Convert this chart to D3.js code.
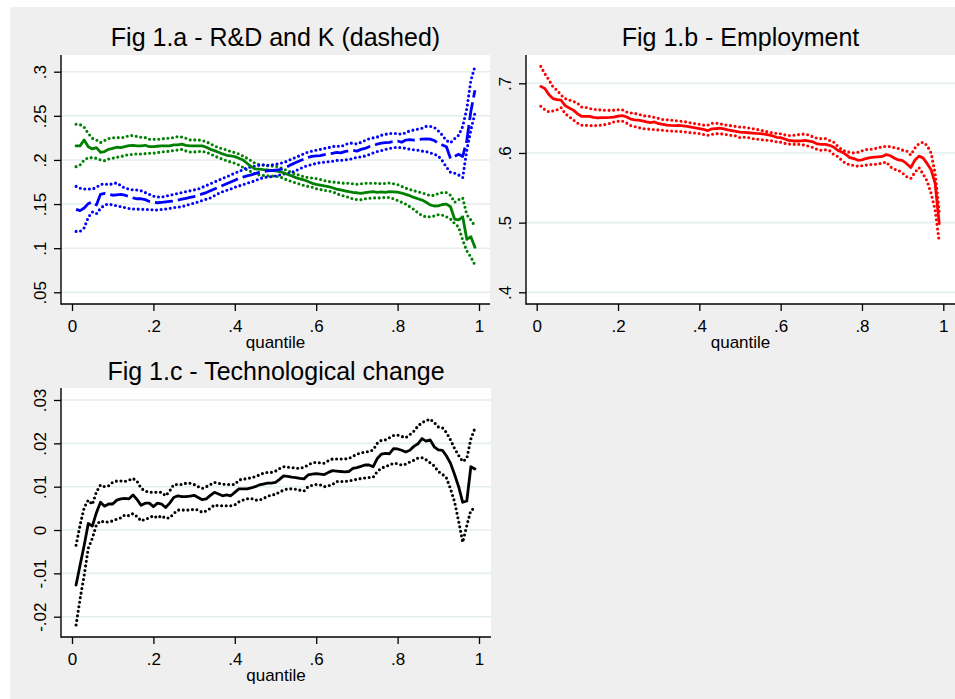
<!DOCTYPE html>
<html><head><meta charset="utf-8">
<script src="https://cdn.jsdelivr.net/npm/d3@7"></script>
<style>
html,body{margin:0;padding:0;background:#fff;}
svg{display:block;font-family:"Liberation Sans",Arial,Helvetica,sans-serif;}
</style></head>
<body><svg id="chart" width="955" height="699"></svg>
<script>
// ---------- DATA ----------
const quantiles = [0.01,0.02,0.03,0.04,0.05,0.06,0.07,0.08,0.09,0.10,0.11,0.12,0.13,0.14,0.15,0.16,0.17,0.18,0.19,0.20,0.21,0.22,0.23,0.24,0.25,0.26,0.27,0.28,0.29,0.30,0.31,0.32,0.33,0.34,0.35,0.36,0.37,0.38,0.39,0.40,0.41,0.42,0.43,0.44,0.45,0.46,0.47,0.48,0.49,0.50,0.51,0.52,0.53,0.54,0.55,0.56,0.57,0.58,0.59,0.60,0.61,0.62,0.63,0.64,0.65,0.66,0.67,0.68,0.69,0.70,0.71,0.72,0.73,0.74,0.75,0.76,0.77,0.78,0.79,0.80,0.81,0.82,0.83,0.84,0.85,0.86,0.87,0.88,0.89,0.90,0.91,0.92,0.93,0.94,0.95,0.96,0.97,0.98,0.99];

// Fig 1.a - R&D (green, solid) and K (blue, dashed), with CI bands
const rdMain = [.2159,.216,.2227,.215,.2125,.214,.2087,.2095,.212,.2132,.2144,.214,.2151,.2163,.2166,.216,.216,.2166,.215,.215,.2155,.216,.216,.216,.217,.217,.218,.2166,.216,.216,.216,.216,.2144,.212,.2106,.2087,.2068,.2053,.2045,.2038,.2019,.200,.1962,.1924,.1898,.1895,.189,.1887,.188,.1875,.1868,.1855,.1835,.1819,.18,.1785,.1773,.1755,.1735,.1724,.1715,.1705,.1698,.1685,.167,.166,.165,.164,.1632,.1628,.1622,.163,.1635,.164,.1632,.1637,.1632,.164,.1638,.1636,.1625,.161,.1595,.1575,.156,.1545,.152,.149,.1478,.148,.1495,.15,.147,.133,.132,.1355,.11,.113,.101];
const rdHi = [.2404,.240,.237,.230,.2246,.2227,.2197,.222,.2242,.225,.2253,.2253,.2257,.2276,.2276,.2265,.2257,.2253,.2234,.2234,.2234,.2238,.2246,.2246,.2253,.2265,.226,.2246,.2227,.2227,.2227,.222,.2208,.2181,.2159,.214,.2125,.2113,.2095,.2083,.2068,.2045,.2019,.1992,.1962,.195,.194,.1935,.193,.193,.1915,.1895,.188,.1855,.184,.1825,.181,.18,.1795,.179,.178,.1765,.1755,.175,.1745,.174,.1735,.1735,.173,.1725,.173,.1735,.1735,.1735,.1735,.173,.1735,.174,.173,.172,.17,.168,.1665,.165,.164,.1625,.1615,.1595,.16,.162,.163,.163,.16,.152,.155,.157,.138,.132,.125];
const rdLo = [.1924,.1943,.200,.2026,.2026,.2019,.200,.1992,.2011,.2019,.203,.2038,.2053,.206,.2064,.2068,.2068,.2072,.2076,.2076,.2083,.209,.2095,.2098,.2106,.2113,.212,.2102,.209,.209,.2095,.2098,.2087,.2068,.2045,.2026,.2008,.1992,.1977,.1962,.1943,.1917,.1887,.1868,.1841,.183,.1825,.182,.1818,.1815,.181,.179,.177,.1755,.174,.1725,.171,.170,.169,.1675,.1665,.1655,.165,.164,.162,.160,.159,.1575,.156,.155,.155,.156,.1565,.157,.157,.157,.1575,.1575,.156,.154,.152,.150,.147,.144,.140,.137,.1355,.1355,.1365,.138,.1375,.1355,.133,.128,.124,.109,.097,.090,.081];
const kMain = [.144,.1425,.1455,.1505,.1525,.149,.161,.162,.161,.160,.1605,.161,.160,.1585,.157,.156,.156,.155,.153,.152,.1515,.152,.1525,.153,.1535,.1545,.1555,.1565,.1575,.1585,.160,.1615,.163,.165,.167,.169,.171,.173,.175,.177,.179,.1805,.182,.183,.1845,.186,.187,.1875,.188,.1885,.189,.190,.1925,.195,.197,.199,.201,.203,.204,.2045,.205,.206,.2065,.2075,.2085,.208,.2095,.2105,.211,.210,.212,.213,.215,.216,.218,.219,.2195,.220,.221,.2215,.220,.2225,.223,.2225,.223,.2235,.2238,.2235,.222,.219,.217,.215,.2015,.204,.2065,.204,.222,.255,.279];
const kHi = [.170,.168,.167,.167,.167,.169,.172,.173,.172,.173,.174,.171,.168,.167,.166,.166,.165,.163,.161,.159,.158,.158,.159,.160,.161,.162,.163,.164,.165,.166,.167,.169,.171,.173,.175,.177,.179,.181,.183,.185,.187,.189,.191,.192,.193,.194,.1945,.194,.1945,.195,.196,.197,.199,.201,.203,.205,.207,.209,.210,.211,.212,.213,.214,.215,.216,.215,.217,.219,.219,.218,.220,.222,.224,.225,.226,.228,.229,.230,.230,.230,.229,.231,.233,.234,.235,.236,.238,.238,.237,.233,.228,.222,.2195,.224,.228,.238,.258,.29,.306];
const kLo = [.119,.119,.123,.135,.141,.139,.145,.149,.150,.149,.148,.147,.146,.145,.1445,.1443,.144,.144,.1438,.1435,.1433,.1438,.1443,.145,.146,.1465,.147,.1485,.1498,.151,.1525,.154,.1555,.157,.1595,.162,.164,.1655,.167,.169,.1705,.172,.1735,.175,.1765,.1785,.180,.1805,.181,.1818,.183,.184,.1845,.186,.188,.190,.1925,.1935,.195,.196,.197,.1975,.198,.1985,.1995,.1995,.200,.2005,.2015,.203,.2035,.2045,.206,.208,.2095,.2105,.212,.213,.214,.2142,.2138,.2132,.212,.2115,.211,.210,.2095,.208,.2065,.2045,.199,.192,.186,.185,.183,.180,.211,.234,.253];

// Fig 1.b - Employment
const empMain = [.6956,.6925,.684,.678,.6765,.6757,.668,.6645,.6615,.6565,.6527,.6525,.6525,.651,.6505,.6508,.6507,.651,.6515,.653,.6536,.652,.649,.6475,.647,.646,.6445,.6435,.6445,.642,.641,.640,.6395,.6392,.6395,.639,.638,.637,.636,.635,.634,.632,.6345,.635,.6355,.6345,.633,.632,.631,.630,.6295,.629,.6285,.628,.6277,.627,.626,.6245,.6225,.622,.620,.618,.6172,.6172,.6175,.618,.617,.6158,.613,.6124,.6124,.611,.6086,.604,.6015,.598,.5933,.592,.5895,.590,.592,.5933,.594,.5945,.595,.5976,.596,.5925,.590,.589,.5845,.579,.5895,.5955,.593,.585,.576,.556,.4986];
const empHi = [.7243,.7138,.705,.695,.690,.683,.678,.676,.674,.6717,.666,.6655,.664,.6625,.662,.6618,.6612,.6612,.6615,.662,.6622,.659,.6575,.657,.6555,.654,.6526,.6526,.651,.6495,.648,.6478,.6472,.6465,.6459,.645,.6445,.643,.642,.6411,.640,.6397,.6425,.643,.6421,.6405,.6397,.639,.638,.6373,.637,.636,.635,.634,.6325,.6315,.630,.629,.628,.6275,.626,.625,.6253,.626,.627,.627,.6255,.623,.621,.6206,.6206,.618,.6158,.610,.605,.602,.601,.600,.601,.603,.6048,.605,.606,.6077,.609,.6096,.609,.6075,.6062,.604,.6029,.597,.607,.6135,.6155,.611,.600,.5703,.515];
const empLo = [.667,.6622,.659,.6603,.662,.665,.6565,.652,.6475,.643,.6397,.6397,.6395,.639,.6395,.640,.641,.6425,.6445,.6455,.646,.6435,.6395,.638,.6365,.635,.6345,.634,.6335,.633,.6325,.632,.6316,.6312,.631,.6305,.6297,.629,.6285,.628,.6265,.6253,.6265,.6277,.6277,.627,.626,.625,.6245,.622,.6225,.622,.6206,.620,.6191,.6185,.618,.6172,.616,.6155,.6138,.6128,.6124,.6124,.6124,.611,.6095,.6077,.605,.6038,.6045,.6035,.5981,.595,.5895,.585,.583,.582,.581,.5818,.5825,.5835,.5837,.5842,.5855,.587,.580,.5765,.575,.571,.566,.5635,.572,.579,.570,.560,.542,.518,.4723];

// Fig 1.c - Technological change
const techMain = [-.0127,-.008,-.0035,.0015,.0009,.004,.0064,.0055,.006,.006,.0069,.0072,.0073,.0072,.0081,.007,.0057,.0062,.0062,.0054,.0062,.006,.0052,.0062,.0075,.0079,.0077,.0077,.0078,.008,.0075,.007,.0072,.008,.0087,.0083,.0079,.0081,.0079,.0087,.0095,.0095,.0095,.0097,.010,.0104,.0106,.0108,.0108,.011,.0117,.0125,.0124,.0122,.0121,.0119,.0118,.0127,.0129,.013,.0129,.0128,.0133,.0137,.0136,.0135,.0134,.0135,.0142,.0144,.0147,.015,.015,.0146,.0165,.0175,.0177,.0176,.0188,.0187,.0184,.018,.0184,.0193,.0199,.0211,.0205,.0208,.0192,.0185,.0184,.0171,.0154,.0128,.010,.0064,.0067,.0146,.0141];
const techHi = [-.0035,.0012,.0052,.0069,.0059,.0088,.0104,.010,.0102,.011,.0113,.0113,.0112,.0115,.0119,.0112,.0096,.009,.0087,.0087,.0087,.0087,.0079,.009,.0105,.0105,.0105,.0108,.0108,.0105,.010,.0096,.010,.0105,.011,.0108,.0106,.0105,.0105,.0105,.0115,.0118,.0118,.0121,.0123,.0127,.0131,.0133,.0133,.0136,.0142,.0146,.0145,.0144,.0143,.0142,.0145,.015,.0155,.0156,.0155,.0154,.016,.0164,.0164,.0164,.0164,.0165,.017,.0175,.0178,.018,.0181,.0185,.020,.0207,.0208,.0213,.0218,.0219,.0216,.0213,.022,.0228,.024,.0248,.0252,.0256,.0248,.0238,.0236,.0225,.0208,.0188,.0172,.0158,.0165,.021,.0235];
const techLo = [-.0219,-.0158,-.0104,-.0042,-.0019,.0012,.0021,.0018,.0019,.0021,.0025,.0028,.0035,.0033,.0038,.0031,.0021,.0025,.0028,.0033,.0028,.0033,.0027,.0028,.0038,.0046,.0046,.0046,.0046,.0048,.0046,.0041,.0044,.005,.0058,.0056,.0056,.0056,.0056,.0058,.0065,.0069,.0072,.0073,.0069,.0069,.0073,.0077,.0081,.0082,.0088,.0092,.0095,.0095,.0094,.0092,.009,.010,.0103,.0105,.0104,.010,.0102,.0105,.0112,.0112,.0112,.0113,.0115,.0117,.0119,.012,.0121,.0122,.0135,.0143,.0146,.015,.0154,.0153,.015,.0152,.0157,.0161,.0166,.0167,.0162,.0155,.0148,.0135,.0129,.012,.0095,.0065,.002,-.0028,.001,.0046,.005];

// tick values / labels
const xTicks = [0, 0.2, 0.4, 0.6, 0.8, 1];
const xTickLabels = ["0", ".2", ".4", ".6", ".8", "1"];
const yTicksA = [0.05, 0.1, 0.15, 0.2, 0.25, 0.3];
const yTickLabelsA = [".05", ".1", ".15", ".2", ".25", ".3"];
const yTicksB = [0.4, 0.5, 0.6, 0.7];
const yTickLabelsB = [".4", ".5", ".6", ".7"];
const yTicksC = [-0.02, -0.01, 0, 0.01, 0.02, 0.03];
const yTickLabelsC = ["-.02", "-.01", "0", ".01", ".02", ".03"];
const titles = ["Fig 1.a - R&D and K (dashed)", "Fig 1.b - Employment", "Fig 1.c - Technological change"];
const xAxisTitle = "quantile";

// ---------- LAYOUT ----------
const svg = d3.select("#chart");
svg.append("rect").attr("x", 10).attr("y", 7).attr("width", 945).attr("height", 692).attr("fill", "#efefef");

const GRID = "#e4eef0";
const panels = [
  {left: 61, right: 490, top: 55, bottom: 304, xp: [72, 479], yv: [0.05, 0.3], yp: [292.3, 71.7],
   yt: yTicksA, yl: yTickLabelsA, title: titles[0], titleY: 46,
   series: [
     {v: rdHi, c: "#008000", s: "dot"}, {v: rdLo, c: "#008000", s: "dot"},
     {v: kHi, c: "#0000ff", s: "dot"}, {v: kLo, c: "#0000ff", s: "dot"},
     {v: rdMain, c: "#008000", s: "solid"}, {v: kMain, c: "#0000ff", s: "dash"}]},
  {left: 526, right: 955, top: 55, bottom: 304, xp: [536.7, 943.3], yv: [0.4, 0.7], yp: [292.3, 83.3],
   yt: yTicksB, yl: yTickLabelsB, title: titles[1], titleY: 46,
   series: [
     {v: empHi, c: "#ff0000", s: "dot"}, {v: empLo, c: "#ff0000", s: "dot"},
     {v: empMain, c: "#ff0000", s: "solid"}]},
  {left: 61, right: 491, top: 388, bottom: 637, xp: [72, 479], yv: [-0.02, 0.03], yp: [616.7, 400],
   yt: yTicksC, yl: yTickLabelsC, title: titles[2], titleY: 380,
   series: [
     {v: techHi, c: "#000000", s: "dot"}, {v: techLo, c: "#000000", s: "dot"},
     {v: techMain, c: "#000000", s: "solid"}]}
];

panels.forEach(p => {
  const x = d3.scaleLinear().domain([0, 1]).range(p.xp);
  const y = d3.scaleLinear().domain(p.yv).range(p.yp);
  const g = svg.append("g");

  g.append("rect").attr("x", p.left).attr("y", p.top)
    .attr("width", p.right - p.left).attr("height", p.bottom - p.top).attr("fill", "#fff");

  // grid
  g.selectAll(".grid").data(p.yt).enter().append("line")
    .attr("x1", p.left).attr("x2", p.right)
    .attr("y1", d => y(d)).attr("y2", d => y(d))
    .attr("stroke", GRID).attr("stroke-width", 1.6);

  // clip
  const cid = "clip" + p.left + "_" + p.top;
  svg.append("clipPath").attr("id", cid).append("rect")
    .attr("x", p.left).attr("y", p.top).attr("width", p.right - p.left).attr("height", p.bottom - p.top);

  const line = d3.line().x((d, i) => x(quantiles[i])).y(d => y(d)).curve(d3.curveLinear);
  const lg = g.append("g").attr("clip-path", "url(#" + cid + ")");
  p.series.forEach(s => {
    const path = lg.append("path").datum(s.v).attr("d", line)
      .attr("fill", "none").attr("stroke", s.c).attr("stroke-linejoin", "round");
    if (s.s === "dot") {
      path.attr("stroke-width", 3.1).attr("stroke-dasharray", "0,4.6").attr("stroke-linecap", "round");
    } else if (s.s === "dash") {
      path.attr("stroke-width", 2.8).attr("stroke-dasharray", "18,5").attr("stroke-linecap", "butt");
    } else {
      path.attr("stroke-width", 2.8).attr("stroke-linecap", "round");
    }
  });

  // axes
  const yAxis = d3.axisLeft(y).tickValues(p.yt).tickFormat((d, i) => p.yl[i]).tickSize(7).tickSizeOuter(0);
  const ya = g.append("g").attr("transform", `translate(${p.left},0)`).call(yAxis);
  ya.select(".domain").remove();
  ya.selectAll(".tick line").attr("stroke", "#000").attr("stroke-width", 1.3);
  ya.selectAll(".tick text").attr("x", 0).attr("dy", 0).attr("text-anchor", "middle")
    .attr("transform", "translate(-15,0) rotate(-90)")
    .attr("font-size", 17).attr("fill", "#000")
    .style("font-family", '"Liberation Sans",Arial,sans-serif');

  const xAxis = d3.axisBottom(x).tickValues(xTicks).tickFormat((d, i) => xTickLabels[i]).tickSize(7).tickSizeOuter(0);
  const xa = g.append("g").attr("transform", `translate(0,${p.bottom})`).call(xAxis);
  xa.select(".domain").remove();
  xa.selectAll(".tick line").attr("stroke", "#000").attr("stroke-width", 1.3);
  xa.selectAll(".tick text").attr("y", 28).attr("dy", 0)
    .attr("font-size", 17).attr("fill", "#000")
    .style("font-family", '"Liberation Sans",Arial,sans-serif');

  // axis lines
  g.append("line").attr("x1", p.left).attr("x2", p.left).attr("y1", p.top).attr("y2", p.bottom + 0.65)
    .attr("stroke", "#000").attr("stroke-width", 1.4);
  g.append("line").attr("x1", p.left).attr("x2", p.right).attr("y1", p.bottom).attr("y2", p.bottom)
    .attr("stroke", "#000").attr("stroke-width", 1.4);

  // x-axis title
  g.append("text").attr("x", (p.left + p.right) / 2).attr("y", p.bottom + 44)
    .attr("text-anchor", "middle").attr("font-size", 17).text(xAxisTitle);

  // panel title
  g.append("text").attr("x", (p.left + p.right) / 2).attr("y", p.titleY)
    .attr("text-anchor", "middle").attr("font-size", 25).text(p.title);
});
</script></body></html>
